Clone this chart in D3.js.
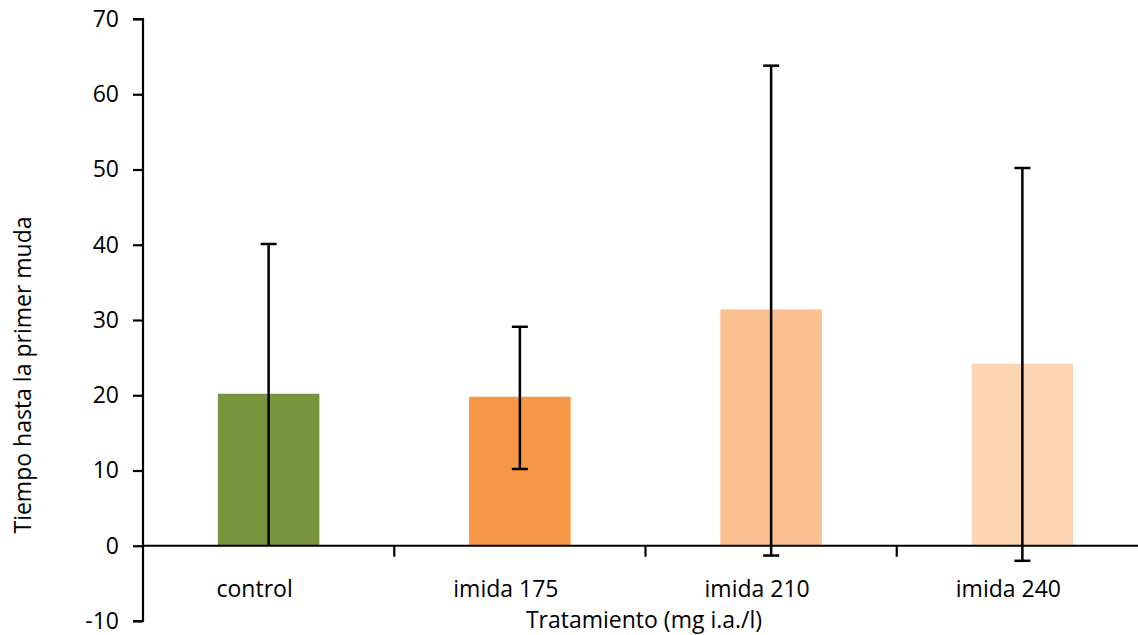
<!DOCTYPE html>
<html><head><meta charset="utf-8">
<script src="https://cdn.jsdelivr.net/npm/d3@7"></script>
<style>body{margin:0;background:#fff}text{font-family:"Open Sans",sans-serif;fill:#000}</style>
</head><body><svg id="c" width="1138" height="635"></svg>
<script>
const categories = ["control","imida 175","imida 210","imida 240"];
const means = [20.2, 19.8, 31.4, 24.2];
const upper = [40.1, 29.1, 63.8, 50.2];
const lower = [0.0, 10.2, -1.3, -2.0];
const colors = ["#77933C","#F79646","#FAC090","#FCD5B5"];
const yTicks = [-10,0,10,20,30,40,50,60,70];
const xTitle = "Tratamiento (mg i.a./l)";
const yTitle = "Tiempo hasta la primer muda";

const svg = d3.select("#c");
const y = d3.scaleLinear().domain([-10,70]).range([621,19]);
const x = d3.scaleBand().domain(categories).range([143,1148]).paddingInner(0.596).paddingOuter(0.298);
const axisX = 143;

// bars
svg.selectAll("rect.bar").data(categories).join("rect")
  .attr("x", d=>x(d)).attr("width", x.bandwidth())
  .attr("y", (d,i)=>y(Math.max(0,means[i])))
  .attr("height", (d,i)=>Math.abs(y(means[i])-y(0)))
  .attr("fill", (d,i)=>colors[i]);

// y axis
const ya = d3.axisLeft(y).tickValues(yTicks).tickSize(10).tickPadding(14).tickFormat(d=>String(d));
const gy = svg.append("g").attr("transform",`translate(${axisX},0)`).call(ya);
gy.select(".domain").attr("stroke","#000").attr("stroke-width",2.2).attr("d",`M-10,${y(-10)}H0V${y(70)}H-10`);
gy.selectAll(".tick line").attr("stroke","#000").attr("stroke-width",2.2);
gy.selectAll(".tick text").style("font-size","23px");

// x axis at zero
const gx = svg.append("g");
gx.append("line").attr("x1",axisX).attr("x2",1138).attr("y1",y(0)).attr("y2",y(0)).attr("stroke","#000").attr("stroke-width",2.2);
const bounds = categories.slice(1).map(c => x(c) - x.step()*x.paddingInner()/2);
gx.selectAll("line.t").data(bounds).join("line").attr("class","t")
  .attr("x1",d=>d).attr("x2",d=>d).attr("y1",y(0)).attr("y2",y(0)+11)
  .attr("stroke","#000").attr("stroke-width",2.2);
gx.selectAll("text.cat").data(categories).join("text").attr("class","cat")
  .attr("x",d=>x(d)+x.bandwidth()/2-14).attr("y",597)
  .attr("text-anchor","middle").style("font-size","23px").text(d=>d);

// error bars
const eb = svg.append("g").attr("stroke","#000").attr("stroke-width",2.5);
categories.forEach((c,i)=>{
  const cx = x(c)+x.bandwidth()/2;
  eb.append("line").attr("x1",cx).attr("x2",cx).attr("y1",y(upper[i])).attr("y2",y(lower[i]));
  eb.append("line").attr("x1",cx-8).attr("x2",cx+8).attr("y1",y(upper[i])).attr("y2",y(upper[i]));
  if (lower[i] !== 0) eb.append("line").attr("x1",cx-8).attr("x2",cx+8).attr("y1",y(lower[i])).attr("y2",y(lower[i]));
});

// titles
svg.append("text").attr("x",644).attr("y",628).attr("text-anchor","middle").style("font-size","23px").text(xTitle);
svg.append("text").attr("transform","translate(31,375) rotate(-90)").attr("text-anchor","middle").style("font-size","23px").text(yTitle);
</script></body></html>
